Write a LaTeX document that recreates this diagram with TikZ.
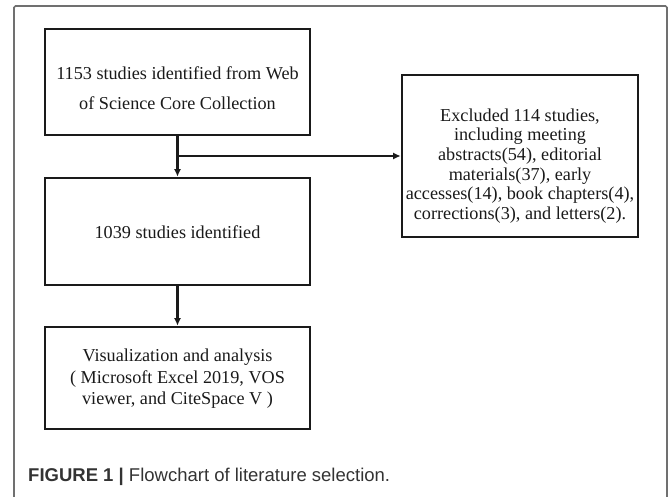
\documentclass[tikz,border=0pt]{standalone}
\usepackage{fontspec}
\setmainfont{Liberation Serif}
\newfontfamily\capfont{Liberation Sans}
\usetikzlibrary{arrows.meta}
\definecolor{framegray}{HTML}{707070}
\definecolor{inkc}{HTML}{1A1A1A}
\definecolor{capc}{HTML}{333333}
\begin{document}
\begin{tikzpicture}[x=1pt,y=-1pt,
  box/.style={draw=inkc, line width=2.6pt, inner sep=0pt},
  txt/.style={font=\fontsize{18.2}{19.7}\selectfont, align=center, text=inkc, inner sep=0pt},
  arr/.style={line width=2.2pt, draw=inkc, -{Latex[length=7.5pt,width=7pt]}},
  frame/.style={draw=framegray, line width=1.6pt, rounded corners=1.5pt}]
\useasboundingbox (0,0) rectangle (669,496);
\draw[frame] (14,6) rectangle (667,530);
% boxes
\node[box, minimum width=265pt, minimum height=106pt] (b1) at (177.5,82) {};
\node[box, minimum width=265pt, minimum height=107pt] (b2) at (177.5,231.5) {};
\node[box, minimum width=265pt, minimum height=102pt] (b3) at (177.5,378) {};
\node[box, minimum width=236pt, minimum height=162pt] (rb) at (520,156) {};
% texts
\node[txt, font=\fontsize{18.2}{30}\selectfont] (t1) at (177.5,88) {1153 studies identified from Web\\of Science Core Collection};
\node[txt] (t2) at (177.5,232) {1039 studies identified};
\node[txt, font=\fontsize{18.2}{21.5}\selectfont] (t3) at (177.5,379) {Visualization and analysis\\( Microsoft Excel 2019, VOS\\viewer, and CiteSpace V )};
\node[txt] (tr) at (520,166) {Excluded 114 studies,\\including meeting\\abstracts(54), editorial\\materials(37), early\\accesses(14), book chapters(4),\\corrections(3), and letters(2).};
% connectors
\coordinate (j) at (177.5,156);
\draw[arr] (b1.south) -- (b2.north);
\draw[arr] (j) -- (j -| rb.west);
\draw[arr] (b2.south) -- (b3.north);
% caption
\node[anchor=west, font=\capfont\fontsize{18.5}{20}\selectfont, text=capc, inner sep=0pt] (cap) at (28,477) {\textbf{FIGURE 1 |} Flowchart of literature selection.};
\end{tikzpicture}
\end{document}
